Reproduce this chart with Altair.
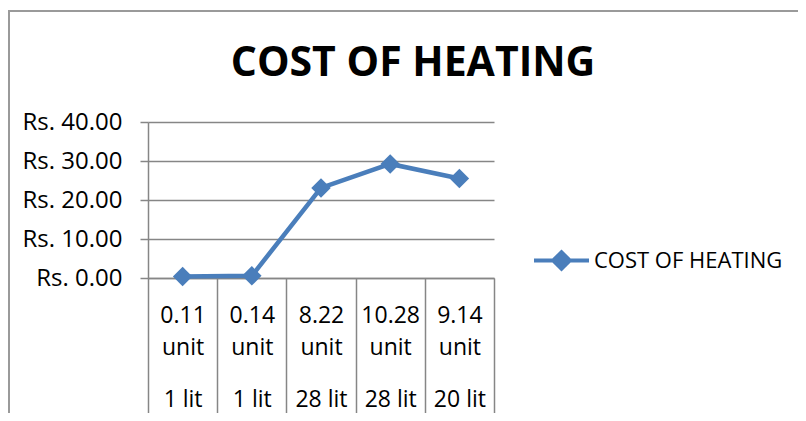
import altair as alt
import pandas as pd

# Data
energy = ["0.11", "0.14", "8.22", "10.28", "9.14"]
unit_word = ["unit", "unit", "unit", "unit", "unit"]
volume = ["1 lit", "1 lit", "28 lit", "28 lit", "20 lit"]
cost = [0.4, 0.55, 23.1, 29.25, 25.5]
series_name = "COST OF HEATING"

cats = [f"{e}|{u}|{v}" for e, u, v in zip(energy, unit_word, volume)]
df = pd.DataFrame({"cat": cats, "cost": cost, "series": [series_name] * len(cats)})

FONT = "Open Sans"
BLUE = "#4A7EBB"
GRID = "#868686"

x_scale = alt.Scale(paddingInner=0, paddingOuter=0)

x_enc = alt.X(
    "cat:N",
    sort=cats,
    title=None,
    scale=x_scale,
    axis=alt.Axis(
        orient="bottom",
        labelAngle=0,
        labelExpr="[split(datum.label,'|')[0], split(datum.label,'|')[1]]",
        labelFont=FONT,
        labelFontSize=23,
        labelColor="black",
        labelLineHeight=32.3,
        labelBaseline="alphabetic",
        labelPadding=-91,
        labelOverlap=False,
        ticks=True,
        tickBand="extent",
        tickSize=135,
        tickColor=GRID,
        tickWidth=1.5,
        domain=True,
        domainColor=GRID,
        domainWidth=1.5,
        grid=False,
    ),
)

x_enc_volume = alt.X(
    "cat:N",
    sort=cats,
    title=None,
    scale=x_scale,
    axis=alt.Axis(
        orient="bottom",
        labelAngle=0,
        labelExpr="split(datum.label,'|')[2]",
        labelFont=FONT,
        labelFontSize=23,
        labelColor="black",
        labelBaseline="alphabetic",
        labelPadding=128,
        labelOverlap=False,
        ticks=False,
        tickSize=0,
        domain=False,
        grid=False,
    ),
)

y_enc = alt.Y(
    "cost:Q",
    title=None,
    scale=alt.Scale(domain=[0, 40], nice=False),
    axis=alt.Axis(
        values=[0, 10, 20, 30, 40],
        tickCount=5,
        labelExpr="'Rs. ' + format(datum.value, '.2f')",
        labelFont=FONT,
        labelFontSize=24,
        labelColor="black",
        labelPadding=18,
        labelOverlap=False,
        tickSize=8,
        tickColor=GRID,
        tickWidth=1.5,
        domain=True,
        domainColor=GRID,
        domainWidth=1.5,
        grid=True,
        gridColor=GRID,
        gridWidth=1.5,
    ),
)

base = alt.Chart(df).encode(x=x_enc, y=y_enc)

line = base.mark_line(strokeWidth=4.5, color=BLUE).encode(
    color=alt.Color(
        "series:N",
        scale=alt.Scale(range=[BLUE]),
        legend=alt.Legend(
            title=None,
            orient="none",
            legendX=384,
            legendY=109,
            symbolType="M-1,0L1,0M-0.3,0L0,-0.3L0.3,0L0,0.3Z",
            symbolSize=3025,
            symbolStrokeWidth=4,
            symbolFillColor=BLUE,
            symbolStrokeColor=BLUE,
            labelFont=FONT,
            labelFontSize=22,
            labelColor="black",
            labelOffset=3,
            labelLimit=400,
            padding=0,
        ),
    ),
)

points = base.mark_point(shape="diamond", size=380, filled=True, opacity=1, color=BLUE)

main = alt.layer(line, points)

volume_axis_layer = alt.Chart(df).mark_point(opacity=0).encode(x=x_enc_volume, y=alt.Y("cost:Q"))

one = alt.Chart(pd.DataFrame({"a": [0]}))
left_border = one.mark_rule(color="#9A9A9A", strokeWidth=2).encode(
    x=alt.value(-139), x2=alt.value(-139), y=alt.value(-111), y2=alt.value(300)
)
top_border = one.mark_rule(color="#9A9A9A", strokeWidth=2).encode(
    x=alt.value(-140), x2=alt.value(660), y=alt.value(-111), y2=alt.value(-111)
)

chart = alt.layer(main, volume_axis_layer, left_border, top_border).resolve_scale(
    x="independent"
).resolve_axis(x="independent").properties(
    width=346,
    height=156,
    autosize=alt.AutoSizeParams(type="none"),
    padding={"left": 140, "top": 114, "right": 304, "bottom": 135},
    title=alt.TitleParams(
        text="COST OF HEATING",
        font=FONT,
        fontSize=41,
        fontWeight="bold",
        color="black",
        anchor="middle",
        baseline="alphabetic",
        dx=92,
        dy=111,
    ),
    background="white",
).configure_view(stroke=None)

chart.save("out.html", embed_options={"renderer": "svg", "actions": False})
